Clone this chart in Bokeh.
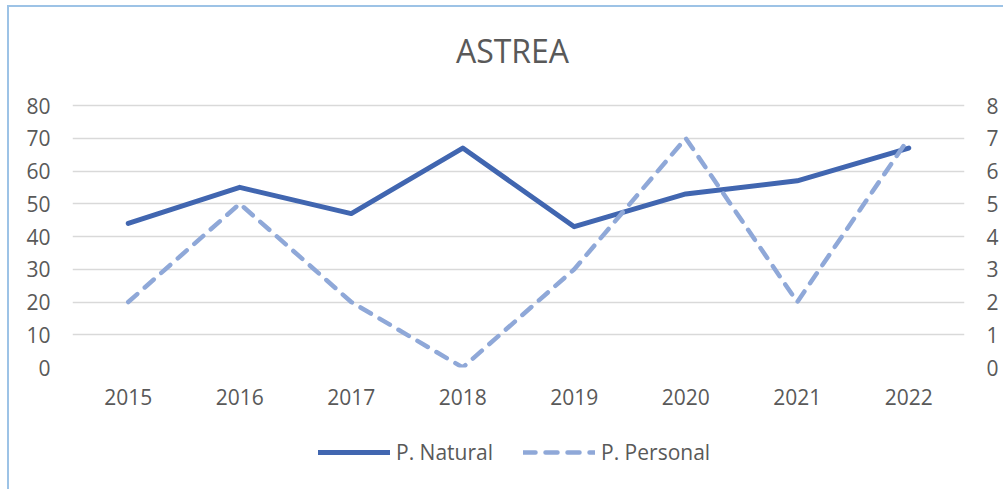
from bokeh.plotting import figure
from bokeh.layouts import column
from bokeh.models import (Range1d, LinearAxis, Legend, LegendItem,
                          FixedTicker, Label)
from bokeh.embed import file_html
from bokeh.resources import INLINE

years = ["2015", "2016", "2017", "2018", "2019", "2020", "2021", "2022"]
p_natural = [44, 55, 47, 67, 43, 53, 57, 67]
p_personal = [2, 5, 2, 0, 3, 7, 2, 7]
left_ticks = [0, 10, 20, 30, 40, 50, 60, 70, 80]
right_ticks = [0, 1, 2, 3, 4, 5, 6, 7, 8]
title_text = "ASTREA"
series_names = ["P. Natural", "P. Personal"]

FONT = "Open Sans"
TXT = "#595959"
C_NAT = "#4166B0"
C_PER = "#8FA8D8"

# The plot frame reaches the top of the canvas so the title (a Label) sits
# inside it; the axes only show 0..80 and 0..8, as in the reference.
TOP_EXTRA = 360.0 / 262.0          # frame height / height of the 0..80 band
p = figure(x_range=years, y_range=Range1d(0, 80 * TOP_EXTRA),
           width=995, height=420,
           output_backend="svg", toolbar_location=None,
           min_border_left=63, min_border_right=40, min_border_top=0,
           min_border_bottom=60)
p.extra_y_ranges = {"right": Range1d(0, 8 * TOP_EXTRA)}
p.outline_line_color = None
p.background_fill_color = "white"
p.border_fill_color = "white"

p.line(years, p_natural, line_color=C_NAT, line_width=5,
       line_join="round", line_cap="round")
p.line(years, p_personal, y_range_name="right",
       line_color=C_PER, line_width=4.5, line_dash="12 10",
       line_join="round", line_cap="round")

p.yaxis.ticker = FixedTicker(ticks=left_ticks)
ra = LinearAxis(y_range_name="right", ticker=FixedTicker(ticks=right_ticks))
p.add_layout(ra, "right")

for ax in [p.yaxis[0], ra, p.xaxis[0]]:
    ax.axis_line_color = None
    ax.major_tick_line_color = None
    ax.minor_tick_line_color = None
    ax.major_tick_out = 0
    ax.major_tick_in = 0
    ax.minor_tick_out = 0
    ax.major_label_text_font = FONT
    ax.major_label_text_font_size = "21px"
    ax.major_label_text_color = TXT
p.yaxis[0].major_label_standoff = 22
ra.major_label_standoff = 22
p.xaxis.major_label_standoff = 21

p.xgrid.grid_line_color = None
p.ygrid.grid_line_color = "#D9D9D9"
p.ygrid.grid_line_width = 1.5

title = Label(x=len(years) / 2, y=96.8, x_offset=-6, text=title_text,
              text_font=FONT, text_font_size="32px", text_color=TXT,
              text_align="center", text_baseline="middle")
p.add_layout(title)

# ---- legend strip (series drawn out of view; only the legend shows) ----
q = figure(x_range=years, y_range=Range1d(1000, 1001), width=995, height=64,
           output_backend="svg", toolbar_location=None,
           min_border=0, min_border_left=0, min_border_right=0,
           min_border_top=0, min_border_bottom=0)
q.axis.visible = False
q.grid.visible = False
q.outline_line_color = None
q.background_fill_color = "white"
q.border_fill_color = "white"
g1 = q.line(years, p_natural, line_color=C_NAT, line_width=5,
            line_join="round", line_cap="round")
g2 = q.line(years, p_personal, line_color=C_PER, line_width=4.5,
            line_dash="12 10", line_join="round", line_cap="round")

legend = Legend(items=[LegendItem(label=series_names[0], renderers=[g1]),
                       LegendItem(label=series_names[1], renderers=[g2])],
                orientation="horizontal", location=(246, 25),
                glyph_width=72, glyph_height=20, label_height=20,
                label_standoff=6, spacing=30, padding=0, margin=0,
                border_line_color=None, background_fill_alpha=0,
                label_text_font=FONT, label_text_font_size="21px",
                label_text_color=TXT)
q.add_layout(legend)

layout = column(p, q, spacing=0)
layout.styles = {"border-left": "2px solid #9DC3E6",
                 "border-top": "2px solid #9DC3E6",
                 "margin-left": "7px", "margin-top": "5px"}

open("out.html", "w").write(file_html(layout, INLINE))
